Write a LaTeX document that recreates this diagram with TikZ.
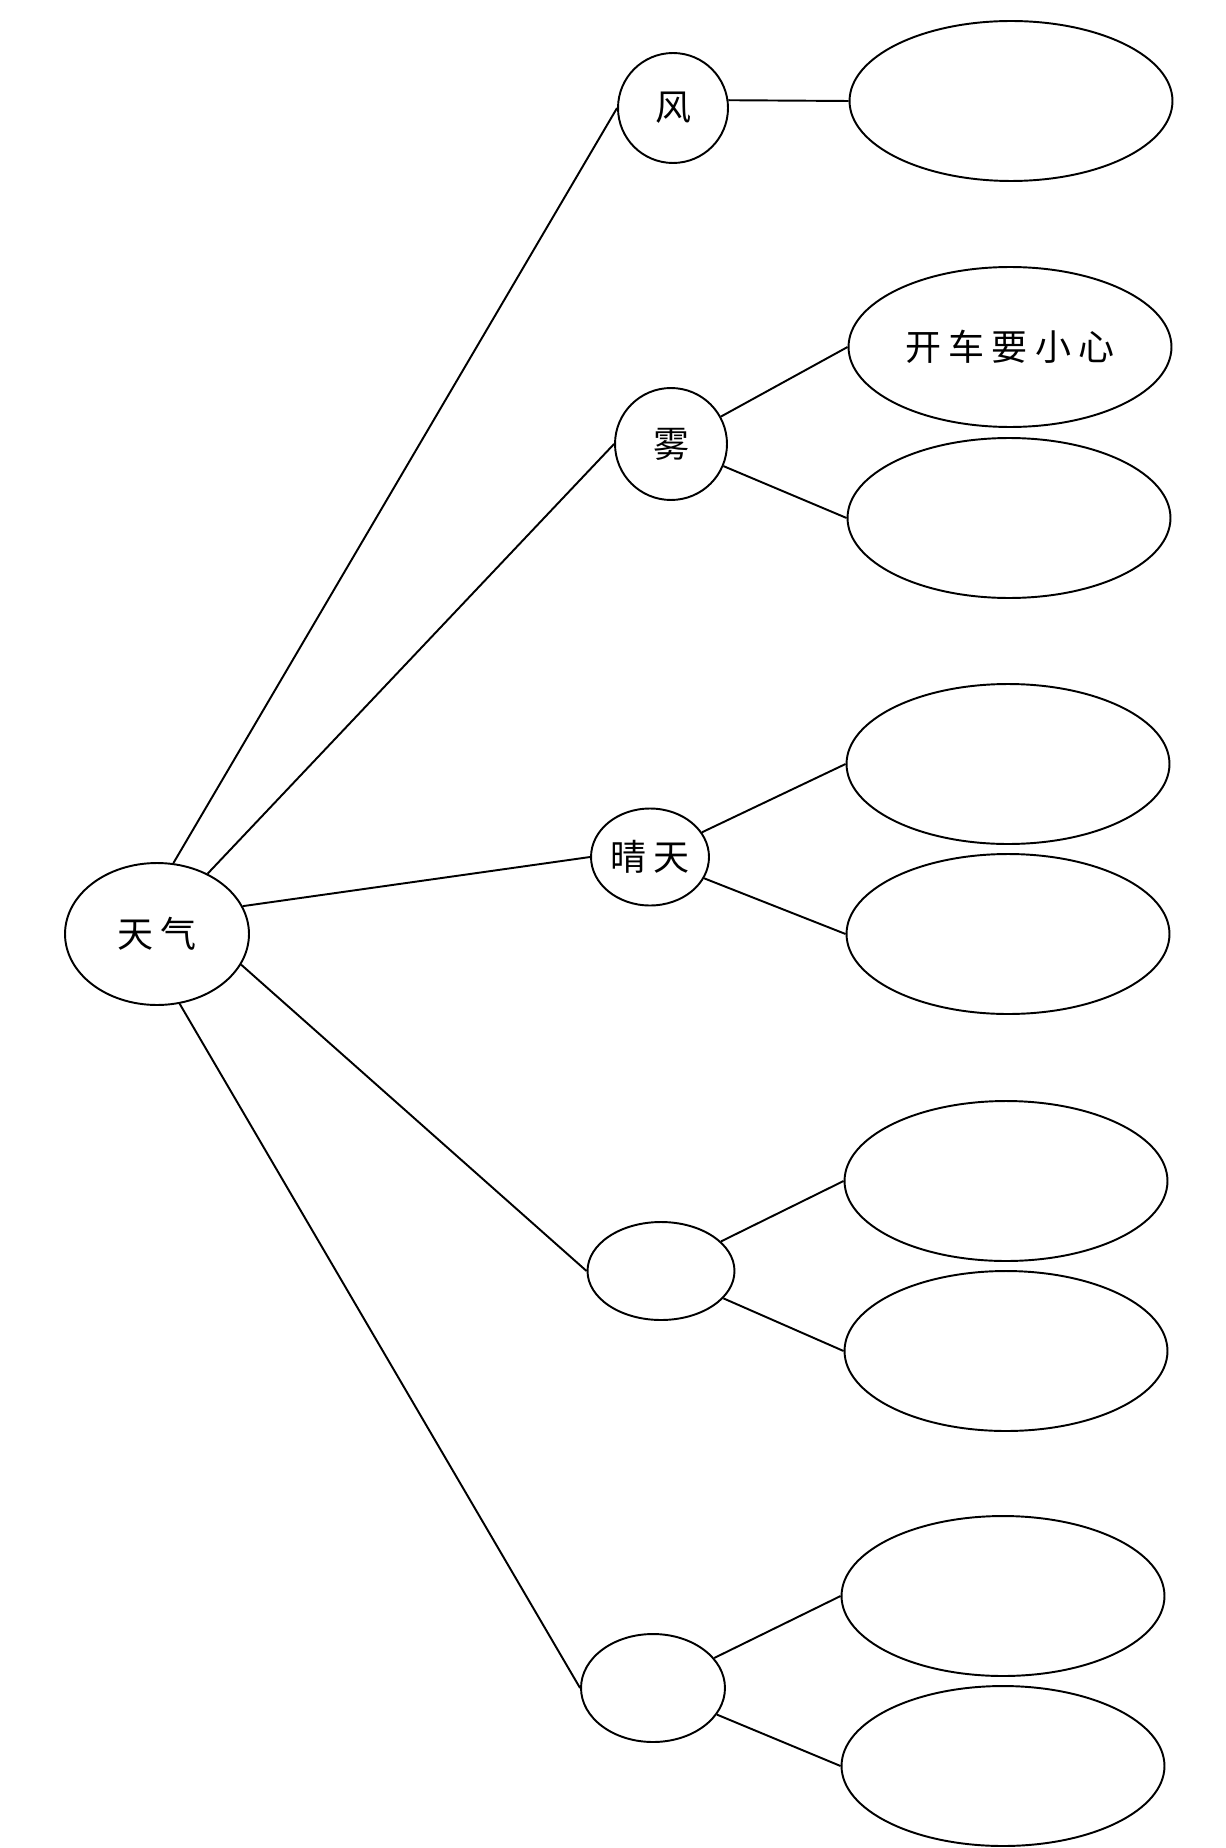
\documentclass[tikz,border=0pt]{standalone}
\usepackage{fontspec}
\usetikzlibrary{shapes.geometric}
\newfontfamily\cjk[LetterSpace=20]{Noto Sans CJK SC}
\tikzset{
    bubble/.style={
        ellipse,
        draw,
        line width=1.1pt,
        inner sep=0pt,
        font=\cjk\fontsize{20.5}{24}\selectfont
    },
    leaf/.style={bubble, minimum width=6.46cm, minimum height=3.2cm},
    link/.style={line width=1.1pt}
}

\begin{document}
\begin{tikzpicture}[x=0.02cm, y=-0.02cm]
        \useasboundingbox (0,0) rectangle (1226,1848);
        % hub
        \node[bubble, minimum width=3.68cm, minimum height=2.84cm] (weather) at (157,934) {天气};
        % topics
        \node[bubble, minimum width=2.2cm, minimum height=2.2cm] (wind) at (673,108) {风};
        \node[bubble, minimum width=2.24cm, minimum height=2.24cm] (fog) at (671,444) {雾};
        \node[bubble, minimum width=2.36cm, minimum height=1.94cm] (sunny) at (650,857) {晴天};
        \node[bubble, minimum width=2.94cm, minimum height=1.96cm] (blankA) at (661,1271) {};
        \node[bubble, minimum width=2.88cm, minimum height=2.16cm] (blankB) at (653,1688) {};
        % answers
        \node[leaf] (windA) at (1011,101) {};
        \node[leaf] (fogA) at (1010,347) {开车要小心};
        \node[leaf] (fogB) at (1009,518) {};
        \node[leaf] (sunnyA) at (1008,764) {};
        \node[leaf] (sunnyB) at (1008,934) {};
        \node[leaf] (blankAA) at (1006,1181) {};
        \node[leaf] (blankAB) at (1006,1351) {};
        \node[leaf] (blankBA) at (1003,1596) {};
        \node[leaf] (blankBB) at (1003,1766) {};
        % links
        \foreach \a/\t in {77/wind,50/fog,18/sunny,-20/blankA,-72/blankB}
            \draw[link] (weather.\a) -- (\t.west);
        \draw[link] (wind.8) -- (windA.west);
        \foreach \t in {fog,sunny,blankA,blankB} {
            \draw[link] (\t) -- (\t A.west);
            \draw[link] (\t) -- (\t B.west);
        }
    \end{tikzpicture}
\end{document}
